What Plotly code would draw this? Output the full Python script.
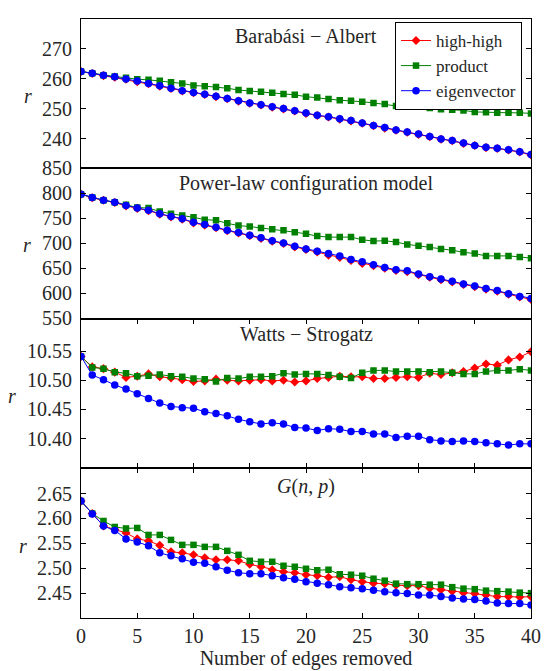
import plotly.graph_objects as go
from plotly.subplots import make_subplots

edges_removed = list(range(41))

series_names = ["high-high", "product", "eigenvector"]
series_colors = ["#ff0000", "#008000", "#0000ff"]
series_symbols = ["diamond", "square", "circle"]

panel_titles = ["Barabási − Albert", "Power-law configuration model",
                "Watts − Strogatz", "<i>G</i>(<i>n</i>, <i>p</i>)"]

ba_high_high = [262.5, 261.8, 261.1, 260.6, 259.9, 259.1, 258.4, 257.6, 256.8, 256.0, 255.4,
                254.8, 254.1, 253.4, 252.6, 251.9, 251.3, 250.6, 250.0, 249.3, 248.5, 247.8,
                247.3, 246.6, 246.0, 245.2, 244.4, 243.6, 242.9, 242.2, 241.5, 240.7, 239.9,
                239.4, 238.5, 237.8, 237.1, 236.8, 236.3, 235.6, 234.6]
ba_product = [262.5, 261.9, 261.2, 260.8, 260.4, 259.9, 259.7, 259.4, 258.9, 258.5, 257.8,
              257.6, 257.3, 256.9, 256.3, 256.0, 255.7, 255.4, 255.0, 254.7, 254.1, 253.8,
              253.3, 252.9, 252.7, 252.4, 252.0, 251.6, 251.0, 251.0, 250.9, 250.3, 249.9,
              249.7, 249.5, 249.0, 248.9, 248.7, 248.7, 248.7, 248.5]
ba_eigen = [262.5, 261.9, 261.2, 260.7, 260.0, 259.3, 258.5, 257.7, 256.9, 256.1, 255.5,
            254.9, 254.2, 253.5, 252.7, 252.0, 251.4, 250.7, 250.1, 249.4, 248.6, 247.9,
            247.4, 246.7, 246.1, 245.3, 244.5, 243.8, 243.0, 242.3, 241.6, 240.8, 240.0,
            239.5, 238.6, 237.8, 237.2, 236.9, 236.4, 235.7, 234.8]

pl_high_high = [798, 791.0, 786.0, 781.5, 774.8, 769.8, 765.5, 758.5, 753.0, 748.5, 741.0,
                736.5, 731.2, 725.5, 720.8, 715.5, 710.0, 704.5, 699.8, 693.0, 688.0, 683.0,
                676.5, 672.0, 666.0, 660.0, 655.5, 650.5, 646.0, 643.5, 637.5, 632.5, 627.5,
                623.0, 618.0, 613.5, 608.5, 604.5, 598.5, 593.0, 588.0]
pl_product = [798, 791.4, 786.2, 782.2, 777.0, 771.7, 770.4, 763.8, 759.2, 755.9, 752.0,
              747.4, 746.1, 740.1, 735.5, 733.6, 730.9, 728.3, 726.3, 722.4, 719.1, 714.5,
              712.5, 712.5, 712.5, 707.2, 704.6, 705.3, 702.6, 698.0, 695.4, 692.8, 688.8,
              686.2, 682.2, 679.6, 675.0, 675.0, 675.0, 673.0, 670.4]
pl_eigen = [798, 791.4, 786.2, 782.2, 775.7, 770.4, 766.4, 759.2, 753.9, 749.3, 742.1,
            737.5, 732.2, 726.3, 721.7, 716.4, 711.2, 705.3, 700.7, 694.1, 688.8, 684.2,
            679.6, 675.0, 667.8, 663.2, 657.2, 652.0, 647.4, 645.4, 638.8, 633.6, 628.9,
            624.3, 619.1, 615.1, 609.9, 605.9, 599.3, 594.1, 590.1]

ws_high_high = [10.541, 10.523, 10.520, 10.514, 10.505, 10.507, 10.511, 10.506, 10.504, 10.501,
                10.498, 10.499, 10.502, 10.500, 10.499, 10.500, 10.501, 10.499, 10.500, 10.497,
                10.499, 10.503, 10.505, 10.507, 10.506, 10.506, 10.503, 10.503, 10.505, 10.506,
                10.505, 10.512, 10.510, 10.513, 10.515, 10.521, 10.528, 10.526, 10.535, 10.540,
                10.549]
ws_product = [10.541, 10.522, 10.520, 10.514, 10.512, 10.507, 10.508, 10.510, 10.507, 10.506,
              10.503, 10.502, 10.498, 10.504, 10.503, 10.506, 10.506, 10.507, 10.512, 10.510,
              10.511, 10.511, 10.509, 10.506, 10.504, 10.513, 10.517, 10.517, 10.515, 10.515,
              10.515, 10.514, 10.515, 10.513, 10.511, 10.511, 10.515, 10.517, 10.517, 10.519,
              10.517]
ws_eigen = [10.541, 10.509, 10.501, 10.492, 10.485, 10.477, 10.469, 10.461, 10.455, 10.453,
            10.452, 10.446, 10.443, 10.439, 10.433, 10.429, 10.425, 10.427, 10.425, 10.419,
            10.418, 10.414, 10.417, 10.416, 10.412, 10.412, 10.408, 10.408, 10.402, 10.404,
            10.404, 10.398, 10.396, 10.395, 10.396, 10.395, 10.393, 10.391, 10.389, 10.391,
            10.391]

gnp_high_high = [2.635, 2.610, 2.585, 2.578, 2.571, 2.559, 2.555, 2.546, 2.533, 2.531, 2.527,
                 2.521, 2.517, 2.517, 2.515, 2.508, 2.503, 2.497, 2.493, 2.491, 2.487, 2.485,
                 2.482, 2.483, 2.477, 2.473, 2.470, 2.469, 2.466, 2.465, 2.465, 2.460, 2.457,
                 2.454, 2.451, 2.449, 2.446, 2.443, 2.443, 2.442, 2.443]
gnp_product = [2.635, 2.610, 2.595, 2.583, 2.580, 2.581, 2.567, 2.567, 2.557, 2.547, 2.547,
               2.543, 2.543, 2.535, 2.527, 2.515, 2.513, 2.513, 2.505, 2.503, 2.499, 2.496,
               2.497, 2.488, 2.487, 2.485, 2.479, 2.475, 2.469, 2.468, 2.468, 2.467, 2.467,
               2.462, 2.459, 2.458, 2.455, 2.454, 2.453, 2.451, 2.450]
gnp_eigen = [2.635, 2.609, 2.585, 2.576, 2.559, 2.553, 2.545, 2.531, 2.525, 2.519, 2.512,
             2.510, 2.503, 2.496, 2.491, 2.489, 2.489, 2.485, 2.481, 2.478, 2.473, 2.470,
             2.467, 2.463, 2.461, 2.459, 2.456, 2.453, 2.451, 2.449, 2.446, 2.446, 2.443,
             2.440, 2.438, 2.437, 2.434, 2.430, 2.429, 2.429, 2.426]

panels = [
    [ba_high_high, ba_product, ba_eigen],
    [pl_high_high, pl_product, pl_eigen],
    [ws_high_high, ws_product, ws_eigen],
    [gnp_high_high, gnp_product, gnp_eigen],
]
y_ranges = [[230.2, 280.0], [550, 850], [10.35, 10.606], [2.40, 2.702]]
y_ticks = [[240, 250, 260, 270], [550, 600, 650, 700, 750, 800, 850],
           [10.40, 10.45, 10.50, 10.55], [2.45, 2.50, 2.55, 2.60, 2.65]]
y_formats = ["d", "d", ".2f", ".2f"]
x_ticks = [0, 5, 10, 15, 20, 25, 30, 35, 40]

FONT = "'Liberation Serif', 'Times New Roman', Times, serif"
TXT = "#262626"

fig = make_subplots(rows=4, cols=1, shared_xaxes=True, vertical_spacing=0)

marker_sizes = {"diamond": 7, "square": 6.5, "circle": 7.5}
for r, data in enumerate(panels, start=1):
    for name, ys, col, sym in zip(series_names, data, series_colors, series_symbols):
        fig.add_trace(go.Scatter(
            x=edges_removed, y=ys, mode="lines+markers", name=name,
            line=dict(color=col, width=1),
            marker=dict(symbol=sym, color=col, size=marker_sizes[sym], line=dict(width=0)),
            showlegend=(r == 1), legendgroup=name, cliponaxis=True,
        ), row=r, col=1)

for r in range(1, 5):
    has_xticks = r >= 3
    fig.update_xaxes(
        range=[0, 40], tickvals=x_ticks, showgrid=False, zeroline=False,
        showline=True, linecolor="black", linewidth=1.2,
        mirror="ticks" if has_xticks else True,
        ticks="inside" if has_xticks else "", ticklen=5, tickwidth=1, tickcolor="black",
        showticklabels=(r == 4), ticklabeloverflow="allow",
        tickfont=dict(family=FONT, size=20, color=TXT),
        row=r, col=1)
    fig.update_yaxes(
        range=y_ranges[r - 1], tickvals=y_ticks[r - 1], tickformat=y_formats[r - 1],
        showgrid=False, zeroline=False, showline=True, linecolor="black", linewidth=1.2,
        mirror="ticks", ticks="inside", ticklen=5, tickwidth=1, tickcolor="black",
        tickfont=dict(family=FONT, size=20, color=TXT), ticklabelstandoff=4,
        row=r, col=1)

fig.update_xaxes(title=dict(text="Number of edges removed", font=dict(family=FONT, size=20, color=TXT),
                            standoff=0), row=4, col=1)

# domains to match panel pixel heights
H = 610.0
bounds = [(8, 160), (160, 313), (313, 465), (465, 618)]
for i, (t, b) in enumerate(bounds, start=1):
    key = "yaxis" if i == 1 else f"yaxis{i}"
    fig.layout[key].domain = [(618 - b) / H, (618 - t) / H]

title_y_px = [25, 176, 329, 484]
r_x_px = [27, 26, 10, 22]
r_y_px = [86, 238, 392, 545]
annotations = []
for t, ty, rx, ry in zip(panel_titles, title_y_px, r_x_px, r_y_px):
    annotations.append(dict(text=t, xref="paper", yref="paper", x=0.5, y=(618 - ty) / H,
                            xanchor="center", yanchor="middle", showarrow=False,
                            font=dict(family=FONT, size=20, color=TXT)))
    annotations.append(dict(text="<i>r</i>", xref="paper", yref="paper", x=(rx - 81) / 460.0,
                            y=(618 - ry) / H, xanchor="center", yanchor="middle", showarrow=False,
                            font=dict(family=FONT, size=20, color=TXT)))

fig.update_layout(
    width=549, height=671,
    margin=dict(l=81, r=8, t=8, b=53),
    paper_bgcolor="white", plot_bgcolor="white",
    font=dict(family=FONT, size=20, color=TXT),
    annotations=annotations,
    legend=dict(x=(402 - 81) / 460.0, y=(618 - 11) / H, xanchor="left", yanchor="top",
                bgcolor="white", bordercolor="black", borderwidth=1,
                font=dict(family=FONT, size=17, color=TXT),
                itemwidth=30, tracegroupgap=0),
)

fig.write_html("out.html")
